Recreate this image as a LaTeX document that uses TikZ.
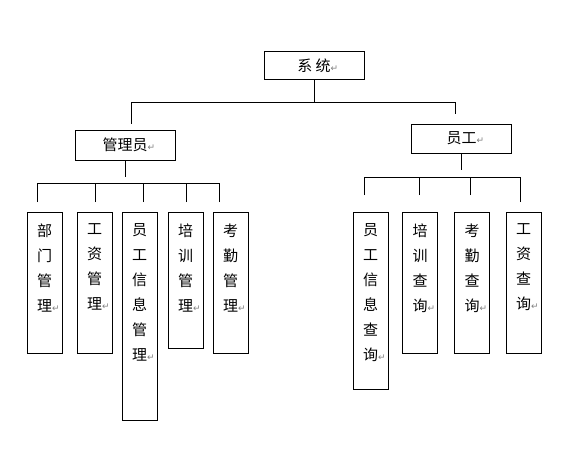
\documentclass[tikz,border=0pt]{standalone}
\usepackage{fontspec}
\setmainfont{Noto Sans CJK SC}
\newfontfamily\symfont{DejaVu Sans}
\usepackage{xcolor}
\usepackage{tikz}
\usetikzlibrary{positioning}
\newcommand\ret{\rlap{\symfont\color{gray}\fontsize{9pt}{9pt}\selectfont ↵}}
\newcommand\vcol[2]{\parbox[c][#1][t]{35pt}{\fontsize{15pt}{25pt}\selectfont\centering\vspace*{11pt}#2\par}}

\begin{document}
\begin{tikzpicture}[
  x=1pt,y=-1pt,
  every node/.style={font=\fontsize{15pt}{17pt}\selectfont},
  hbox/.style={draw,line width=0.9pt,minimum width=100pt,minimum height=28pt,inner sep=0pt},
  vbox/.style={draw,line width=0.9pt,inner sep=0pt,anchor=north},
  link/.style={line width=0.9pt}
]
  \useasboundingbox (0,0) rectangle (565,455);
  % top level
  \node[hbox] (sys) at (314,65.5) {系 统\ret};
  \node[hbox,minimum height=30pt] (admin) at (125,145) {管理员\ret};
  \node[hbox,minimum height=29pt] (staff) at (461.5,138.5) {员工\ret};
  \coordinate (busA) at (0,102.5);
  \coordinate (lA) at ([xshift=6.5pt,yshift=6pt]admin.north);
  \coordinate (rA) at ([xshift=-6.5pt,yshift=10pt]staff.north);
  \draw[link] (sys.south) -- (sys.south |- busA);
  \draw[link] (lA) -- (lA |- busA) -| (rA);

  % admin functions
  \node[vbox] (b1) at (44.5,212) {\vcol{141pt}{部\\门\\管\\理\ret}};
  \node[vbox] (b2) at (94.5,212) {\vcol{141pt}{工\\资\\管\\理\ret}};
  \node[vbox] (b3) at (139.5,212) {\vcol{208pt}{员\\工\\信\\息\\管\\理\ret}};
  \node[vbox] (b4) at (185.5,212) {\vcol{136pt}{培\\训\\管\\理\ret}};
  \node[vbox] (b5) at (230.5,212) {\vcol{141pt}{考\\勤\\管\\理\ret}};
  \foreach \b/\dx in {b1/-7.5,b2/0.5,b3/3.5,b4/0.5,b5/-11.5}
    \draw[link] ([xshift=\dx pt,yshift=10pt]\b.north) -- ++(0,-19) coordinate (t\b);
  \draw[link] (tb1) -- (tb5);
  \draw[link] (admin.south) -- ++(0,17);

  % staff functions
  \node[vbox] (c1) at (370.5,212) {\vcol{177pt}{员\\工\\信\\息\\查\\询\ret}};
  \node[vbox] (c2) at (420,212) {\vcol{141pt}{培\\训\\查\\询\ret}};
  \node[vbox] (c3) at (472,212) {\vcol{141pt}{考\\勤\\查\\询\ret}};
  \node[vbox] (c4) at (523.5,212) {\vcol{141pt}{工\\资\\查\\询\ret}};
  \foreach \c/\dx/\dy/\len in {c1/-6.5/17/18,c2/-1/17/18,c3/-2/17/18,c4/-3.5/10/25}
    \draw[link] ([xshift=\dx pt,yshift=\dy pt]\c.north) -- ++(0,-\len) coordinate (t\c);
  \draw[link] (tc1) -- (tc4);
  \draw[link] (staff.south) -- ++(0,17);
\end{tikzpicture}
\end{document}
